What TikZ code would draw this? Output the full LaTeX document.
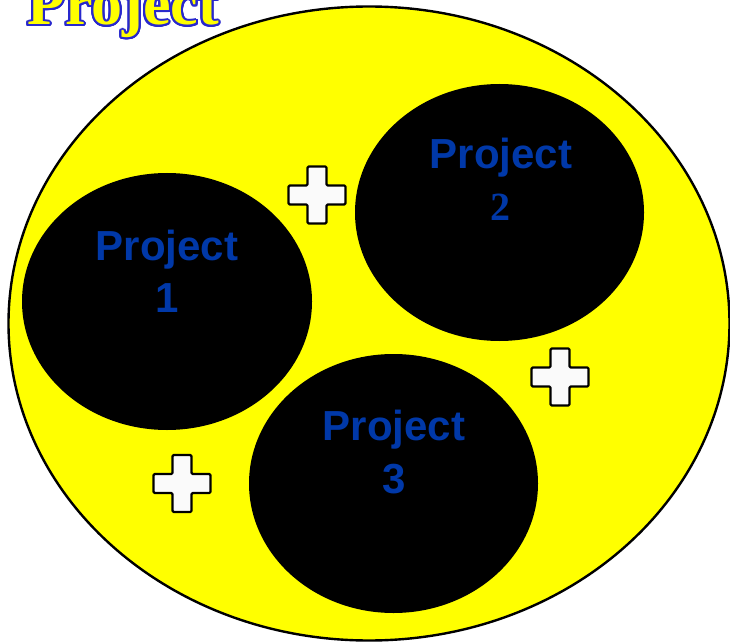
\documentclass[tikz,border=0pt]{standalone}
\usepackage{fontspec}
\setmainfont{Liberation Sans}
\newfontfamily\serifb{Liberation Serif}
\usepackage{contour}
\usetikzlibrary{shapes.geometric}
\definecolor{projblue}{RGB}{0,56,168}
\definecolor{titleblue}{RGB}{40,40,205}
\definecolor{pureyellow}{RGB}{255,255,0}
\definecolor{plusfill}{RGB}{250,250,250}
\tikzset{
  bigoval/.style={ellipse, draw=black, line width=2.4pt, fill=pureyellow, inner sep=0pt},
  projoval/.style={ellipse, fill=black, inner sep=0pt},
  projtext/.style={anchor=base, inner sep=0pt, text=projblue, font=\fontsize{42}{50}\selectfont\bfseries},
  projnum/.style={anchor=base, inner sep=0pt, text=projblue, font=\serifb\fontsize{40}{48}\selectfont\bfseries},
  plussign/.pic={
    \draw[line width=2.2pt, fill=plusfill, rounded corners=1.2pt, line join=round]
      (-9.5,-28.5) -- (9.5,-28.5) -- (9.5,-9.5) -- (28.5,-9.5) -- (28.5,9.5) -- (9.5,9.5)
      -- (9.5,28.5) -- (-9.5,28.5) -- (-9.5,9.5) -- (-28.5,9.5) -- (-28.5,-9.5) -- (-9.5,-9.5) -- cycle;
  }
}
\begin{document}
\begin{tikzpicture}[x=1pt, y=-1pt]
\useasboundingbox (0,0) rectangle (730,644);
% title
\contourlength{2pt}
\contournumber{24}
\node[anchor=base west, inner sep=0pt, font=\serifb\fontsize{62}{70}\selectfont\bfseries, text=pureyellow] (title) at (27,25) {\contour{titleblue}{Project}};
% main ellipse
\node[bigoval, minimum width=721pt, minimum height=634pt] (main) at (369,323.5) {};
% project ovals
\node[projoval, minimum width=290pt, minimum height=257pt] (p1) at (167,301.5) {};
\node[projoval, minimum width=289pt, minimum height=257pt] (p2) at (499.5,212.5) {};
\node[projoval, minimum width=289pt, minimum height=259pt] (p3) at (393.5,483.5) {};
% labels
\node[projtext] (t1) at (167,260) {Project};
\node[projtext] (n1) at (167,312) {1};
\node[projtext] (t2) at (501,169) {Project};
\node[projnum] (n2) at (500,221) {2};
\node[projtext] (t3) at (394,440) {Project};
\node[projtext] (n3) at (394,493) {3};
% plus signs
\pic at (317,195) {plussign};
\pic at (560,377) {plussign};
\pic at (182,483.5) {plussign};
\end{tikzpicture}
\end{document}
